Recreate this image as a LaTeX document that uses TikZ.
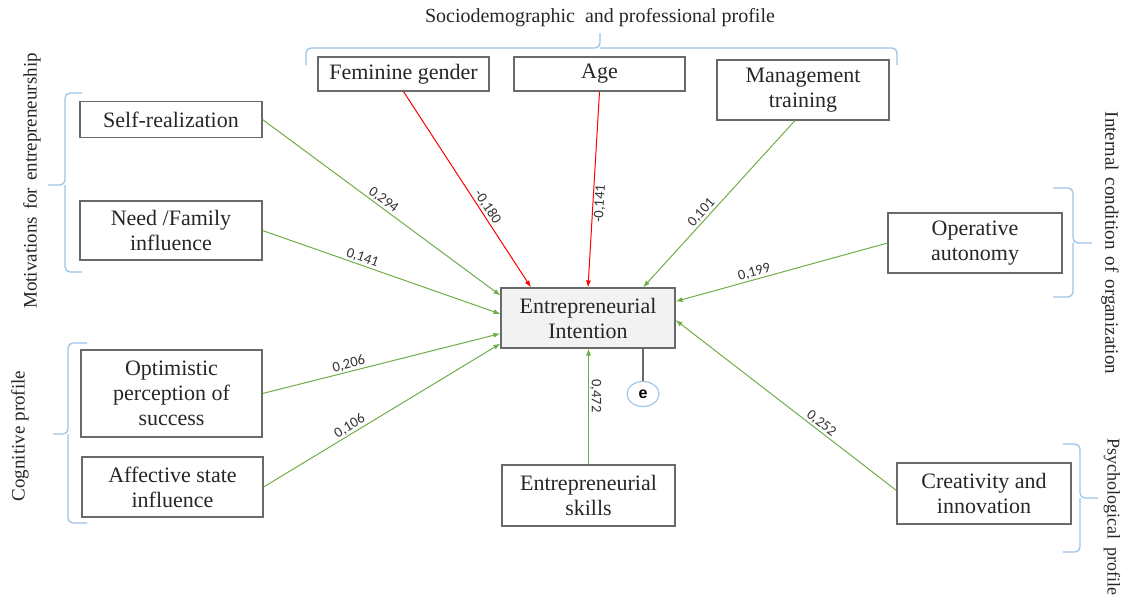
\documentclass[tikz,border=0pt]{standalone}
\usepackage{fontspec}
\setmainfont{Liberation Serif}
\newfontfamily\lblfont{Carlito}
\newfontfamily\efont{Liberation Sans}
\usetikzlibrary{calc,arrows.meta,shapes.geometric}
\definecolor{edgegreen}{RGB}{112,173,71}
\definecolor{bracketblue}{RGB}{157,195,230}
\definecolor{boxgray}{RGB}{105,105,105}
\definecolor{lblgray}{RGB}{50,50,50}
\definecolor{eifill}{RGB}{242,242,242}
\begin{document}
\begin{tikzpicture}[x=1pt,y=-1pt,
  box/.style={draw=boxgray, line width=1.1pt, align=center, inner sep=0pt, font=\fontsize{22}{25}\selectfont, text=black!85},
  grp/.style={font=\fontsize{19}{22}\selectfont, text=black!85, inner sep=0pt},
  brk/.style={draw=bracketblue, line width=1.3pt, rounded corners=5pt},
  posarrow/.style={draw=edgegreen, line width=1pt, -{Latex[length=7pt,width=5pt]}},
  negarrow/.style={draw=red, line width=1pt, -{Latex[length=7pt,width=5pt]}},
  lblbase/.style={font=\lblfont\fontsize{14.5}{16}\selectfont, text=lblgray, inner sep=1pt},
  lbl/.style={lblbase, sloped, above},
]
\useasboundingbox (0,0) rectangle (1123,598);

% group titles
\node[grp, font=\fontsize{20}{22}\selectfont] (t1) at (600,18) {Sociodemographic\ \ and professional profile};
\node[grp, rotate=90] (t2) at (32,181) {Motivations\hspace{7pt}for\hspace{7pt}entrepreneurship};
\node[grp, rotate=90] (t3) at (20,436) {Cognitive profile};
\node[grp, rotate=-90] (t4) at (1110,243) {Internal\hspace{7pt}condition\hspace{7pt}of\hspace{7pt}organization};
\node[grp, rotate=-90, anchor=west, font=\fontsize{18}{22}\selectfont] (t5) at (1112,438) {Psychological\hspace{8pt}profile};

% brackets
\draw[brk] (306,65) -- (306,48) -- (600,48) -- (600,33);
\draw[brk] (600,48) -- (897,48) -- (897,65);
\draw[brk] (82,93) -- (65,93) -- (65,185) -- (48,185);
\draw[brk] (65,185) -- (65,272) -- (82,272);
\draw[brk] (87,343) -- (68,343) -- (68,434) -- (53,434);
\draw[brk] (68,434) -- (68,523) -- (87,523);
\draw[brk] (1053,188) -- (1073,188) -- (1073,243) -- (1092,243);
\draw[brk] (1073,243) -- (1073,297) -- (1053,297);
\draw[brk] (1063,444) -- (1080,444) -- (1080,498) -- (1098,498);
\draw[brk] (1080,498) -- (1080,552) -- (1063,552);

% boxes
\node[box, minimum width=171pt, minimum height=34pt] (fem) at (403.5,74) {Feminine gender};
\node[box, minimum width=171pt, minimum height=34pt] (age) at (599.5,74) {Age};
\node[box, minimum width=172pt, minimum height=60pt] (mgmt) at (803,90) {Management\\training};
\node[box, minimum width=182pt, minimum height=36pt] (self) at (171,119.5) {Self-realization};
\node[box, minimum width=182pt, minimum height=59pt] (need) at (171,230.5) {Need /Family\\influence};
\node[box, minimum width=174pt, minimum height=60pt] (oper) at (975,243) {Operative\\autonomy};
\node[box, fill=eifill, minimum width=174pt, minimum height=60pt] (EI) at (588,318) {Entrepreneurial\\Intention};
\node[box, minimum width=181pt, minimum height=87pt] (opt) at (171.5,393.5) {Optimistic\\perception of\\success};
\node[box, minimum width=181pt, minimum height=60pt] (aff) at (172.5,487) {Affective state\\influence};
\node[box, minimum width=173pt, minimum height=61pt] (skills) at (588.5,495.5) {Entrepreneurial\\skills};
\node[box, minimum width=174pt, minimum height=61pt] (creat) at (984,493.5) {Creativity and\\innovation};
\node[draw=bracketblue, line width=1.1pt, ellipse, minimum width=32pt, minimum height=25pt, inner sep=0pt, font=\efont\bfseries\fontsize{16}{17}\selectfont] (e) at (643,394) {e};

% error term
\draw[boxgray, line width=1.2pt] (e.north) -- (e.north |- EI.south);

% paths
\draw[posarrow] (self.east) -- node[lbl, pos=0.49]{0,294} ($(EI.north west)+(0,8)$);
\draw[posarrow] (need.east) -- node[lbl, pos=0.41]{0,141} ($(EI.west)+(0,-4)$);
\draw[posarrow] (opt.east) -- node[lbl, pos=0.37]{0,206} ($(EI.south west)+(0,-15)$);
\draw[posarrow] (aff.east) -- node[lbl, pos=0.38]{0,106} ($(EI.south west)+(0,-5)$);
\draw[negarrow] (fem.south) -- node[lbl, pos=0.61]{-0,180} ($(EI.north)+(-57,0)$);
\draw[negarrow] (age.south) -- node[lblbase, sloped, below, pos=0.57]{-0,141} (EI.north);
\draw[posarrow] ($(mgmt.south)+(-8,0)$) -- node[lbl, pos=0.58]{0,101} ($(EI.north)+(55,0)$);
\draw[posarrow] (oper.west) -- node[lbl, pos=0.62]{0,199} ($(EI.north east)+(0,14)$);
\draw[posarrow] ($(creat.west)+(0,-3)$) -- node[lbl, pos=0.36]{0,252} ($(EI.east)+(0,2)$);
\draw[posarrow] (skills.north) -- node[lblbase, pos=0.59, rotate=-90, anchor=south]{0,472} (skills.north |- EI.south);
\end{tikzpicture}
\end{document}
